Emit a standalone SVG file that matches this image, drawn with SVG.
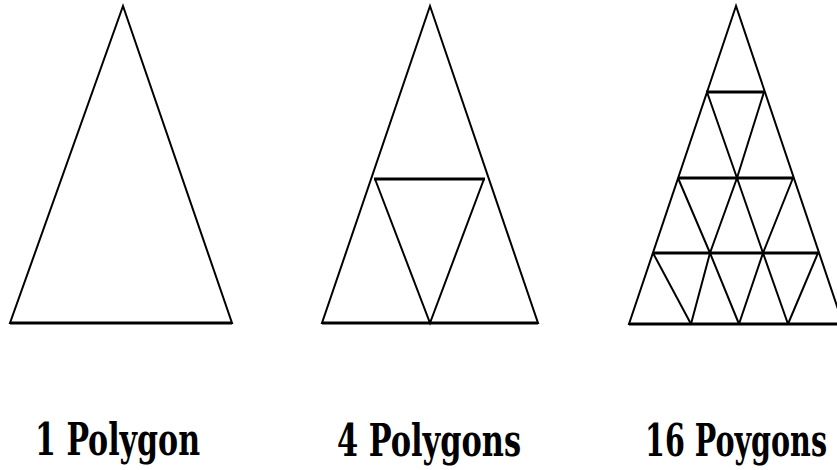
<svg xmlns="http://www.w3.org/2000/svg" width="837" height="470" viewBox="0 0 837 470">
<style>
.ln{fill:none;stroke:#000;stroke-width:2;stroke-linejoin:miter}
.hz{fill:none;stroke:#000;stroke-width:3}
.lbl{font-family:"DejaVu Serif Condensed","DejaVu Serif","Liberation Serif",serif;font-weight:bold;font-size:45px;fill:#000}
</style>
<rect width="837" height="470" fill="#fff"/>
<g id="fig1">
<polygon class="ln" points="123,6 10,323 232,323"/>
<line class="hz" x1="10" y1="323" x2="232" y2="323"/>
</g>
<g id="fig2">
<polygon class="ln" points="430,6 322,323 538,323"/>
<line class="hz" x1="322" y1="323" x2="538" y2="323"/>
<line class="hz" x1="374" y1="179" x2="485" y2="179"/>
<polyline class="ln" points="375,179 430,323 484,179"/>
</g>
<g id="fig3">
<polygon class="ln" points="736,6 629,324 843,324"/>
<line class="hz" x1="629" y1="324" x2="843" y2="324"/>
<line class="hz" x1="706" y1="92" x2="765" y2="92"/>
<line class="hz" x1="678" y1="178" x2="794" y2="178"/>
<line class="hz" x1="653" y1="253" x2="819" y2="253"/>
<polyline class="ln" points="707,92 737,178 763,253 788,324"/>
<polyline class="ln" points="764,92 737,178 710,253 691,324"/>
<polyline class="ln" points="678,178 710,253 739,324"/>
<polyline class="ln" points="793,178 763,253 739,324"/>
<line class="ln" x1="653" y1="253" x2="691" y2="324"/>
<line class="ln" x1="818" y1="253" x2="788" y2="324"/>
</g>
<g id="labels">
<text class="lbl" x="35" y="455" textLength="165" lengthAdjust="spacingAndGlyphs">1 Polygon</text>
<text class="lbl" x="337" y="456" textLength="184" lengthAdjust="spacingAndGlyphs">4 Polygons</text>
<text class="lbl" x="645" y="456" textLength="182" lengthAdjust="spacingAndGlyphs">16 Poygons</text>
</g>
</svg>
